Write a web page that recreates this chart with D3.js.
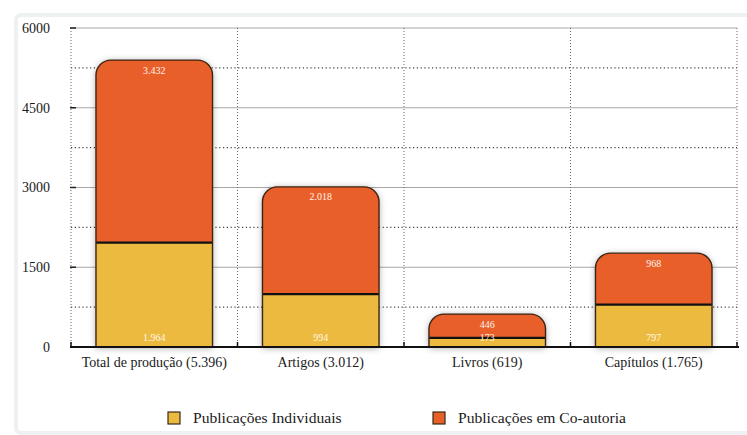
<!DOCTYPE html>
<html>
<head>
<meta charset="utf-8">
<script src="https://cdn.jsdelivr.net/npm/d3@7/dist/d3.min.js"></script>
<style>
  html, body { margin: 0; padding: 0; background: #ffffff; }
  svg { display: block; }
  svg text { font-family: "Liberation Serif", "Times New Roman", Times, "DejaVu Serif", serif; }
</style>
</head>
<body>
<svg id="chart" width="747" height="435"></svg>
<script>
// Produção por tipo: publicações individuais vs. em co-autoria
const categories = ["Total de produção", "Artigos", "Livros", "Capítulos"];
const individual = [1964, 994, 173, 797];
const coauthor   = [3432, 2018, 446, 968];
const yTicks     = [0, 1500, 3000, 4500, 6000];
const legendLabels = ["Publicações Individuais", "Publicações em Co-autoria"];

const colors = { individual: "#ecba3f", coauthor: "#e95f29", outline: "#3b2414" };

const ptBR = d3.formatLocale({ decimal: ",", thousands: ".", grouping: [3], currency: ["R$", ""] });
const fmt = ptBR.format(",d");

const svg = d3.select("#chart");
const W = 747, H = 435;
const plot = { left: 71, right: 737, top: 28, bottom: 347 };

// card background (runs off the right edge)
svg.append("rect")
  .attr("x", 16).attr("y", 15).attr("width", W + 20).attr("height", H - 17)
  .attr("rx", 5)
  .attr("fill", "#ffffff").attr("stroke", "#eef1f1").attr("stroke-width", 4);

const defs = svg.append("defs");
const shadow = defs.append("filter").attr("id", "barShadow")
  .attr("x", "-20%").attr("y", "-20%").attr("width", "140%").attr("height", "140%");
shadow.append("feDropShadow")
  .attr("dx", 0).attr("dy", 1).attr("stdDeviation", 3.5)
  .attr("flood-color", "#000").attr("flood-opacity", 0.35);

const x = d3.scaleBand().domain(categories).range([plot.left, plot.right]).paddingInner(0).paddingOuter(0);
const y = d3.scaleLinear().domain([0, 6000]).range([plot.bottom, plot.top]);

const grid = svg.append("g");
// solid horizontal gridlines at each tick
grid.selectAll("line.major").data(yTicks.filter(d => d > 0)).join("line")
  .attr("x1", plot.left).attr("x2", plot.right)
  .attr("y1", d => y(d)).attr("y2", d => y(d))
  .attr("stroke", "#a8a8a8").attr("stroke-width", 1.2);
// dotted gridlines halfway between ticks
const minor = d3.pairs(yTicks).map(([a, b]) => (a + b) / 2);
grid.selectAll("line.minor").data(minor).join("line")
  .attr("x1", plot.left).attr("x2", plot.right)
  .attr("y1", d => y(d)).attr("y2", d => y(d))
  .attr("stroke", "#444").attr("stroke-width", 1.1).attr("stroke-dasharray", "1.2,2.6");
// dotted vertical separators between categories
const bounds = categories.map(c => x(c)).concat([plot.right]);
grid.selectAll("line.vert").data(bounds).join("line")
  .attr("x1", d => d).attr("x2", d => d)
  .attr("y1", plot.top).attr("y2", plot.bottom)
  .attr("stroke", "#666").attr("stroke-width", 1).attr("stroke-dasharray", "1,2");

// y axis ticks and labels
const yAxis = svg.append("g");
yAxis.selectAll("line").data(yTicks).join("line")
  .attr("x1", plot.left - 1).attr("x2", plot.left + 5)
  .attr("y1", d => y(d)).attr("y2", d => y(d))
  .attr("stroke", "#222").attr("stroke-width", 1.5);
yAxis.selectAll("text").data(yTicks).join("text")
  .attr("x", 50).attr("y", d => y(d)).attr("dy", "0.35em")
  .attr("text-anchor", "end")
  .attr("font-size", 14).attr("fill", "#1a1a1a")
  .text(d => d);

// bars
const bw = x.bandwidth() * 0.7;
const r = 15;
const barData = categories.map((c, i) => ({ cat: c, ind: individual[i], co: coauthor[i], total: individual[i] + coauthor[i] }));

function roundedTop(x0, y0, w, yb, rad) {
  const p = d3.path();
  p.moveTo(x0, yb);
  p.lineTo(x0, y0 + rad);
  p.arcTo(x0, y0, x0 + rad, y0, rad);
  p.lineTo(x0 + w - rad, y0);
  p.arcTo(x0 + w, y0, x0 + w, y0 + rad, rad);
  p.lineTo(x0 + w, yb);
  p.closePath();
  return p.toString();
}

const bars = svg.append("g").selectAll("g").data(barData).join("g");
bars.each(function (d) {
  const g = d3.select(this);
  const x0 = x(d.cat) + (x.bandwidth() - bw) / 2;
  const yTop = y(d.total), yMid = y(d.ind), yb = y(0);
  g.append("path").attr("d", roundedTop(x0, yTop, bw, yb, r))
    .attr("fill", colors.coauthor).attr("filter", "url(#barShadow)");
  g.append("rect").attr("x", x0).attr("y", yMid).attr("width", bw).attr("height", yb - yMid)
    .attr("fill", colors.individual);
  g.append("line").attr("x1", x0).attr("x2", x0 + bw).attr("y1", yMid).attr("y2", yMid)
    .attr("stroke", "#111").attr("stroke-width", 2.2);
  g.append("path").attr("d", roundedTop(x0, yTop, bw, yb, r))
    .attr("fill", "none").attr("stroke", colors.outline).attr("stroke-width", 1.4);
  g.append("text").attr("x", x0 + bw / 2).attr("y", yTop + 13.5)
    .attr("text-anchor", "middle").attr("font-size", 10)
    .attr("fill", "#fff4ec").text(fmt(d.co));
  g.append("text").attr("x", x0 + bw / 2).attr("y", yb - 6)
    .attr("text-anchor", "middle").attr("font-size", 10)
    .attr("fill", "#fff8e6").text(fmt(d.ind));
});

// x axis baseline with ticks at category boundaries
const xAxis = svg.append("g");
xAxis.append("line").attr("x1", plot.left - 1).attr("x2", plot.right + 2)
  .attr("y1", plot.bottom).attr("y2", plot.bottom)
  .attr("stroke", "#111").attr("stroke-width", 1.8);
xAxis.selectAll("line.tick").data(bounds).join("line")
  .attr("x1", d => d).attr("x2", d => d)
  .attr("y1", plot.bottom - 5).attr("y2", plot.bottom)
  .attr("stroke", "#111").attr("stroke-width", 1.5);
xAxis.selectAll("text").data(barData).join("text")
  .attr("x", d => x(d.cat) + x.bandwidth() / 2).attr("y", 367)
  .attr("text-anchor", "middle")
  .attr("font-size", 14).attr("fill", "#1a1a1a")
  .text(d => `${d.cat} (${fmt(d.total)})`);

// legend
const legendX = [168, 433];
const legendColors = [colors.individual, colors.coauthor];
const legend = svg.append("g").selectAll("g").data(legendLabels).join("g")
  .attr("transform", (d, i) => `translate(${legendX[i]},412)`);
legend.append("rect").attr("width", 12).attr("height", 12)
  .attr("fill", (d, i) => legendColors[i]).attr("stroke", "#3a2a1a").attr("stroke-width", 1.2);
legend.append("text").attr("x", 25).attr("y", 11)
  .attr("font-size", 15.6).attr("fill", "#1a1a1a")
  .text(d => d);
</script>
</body>
</html>
